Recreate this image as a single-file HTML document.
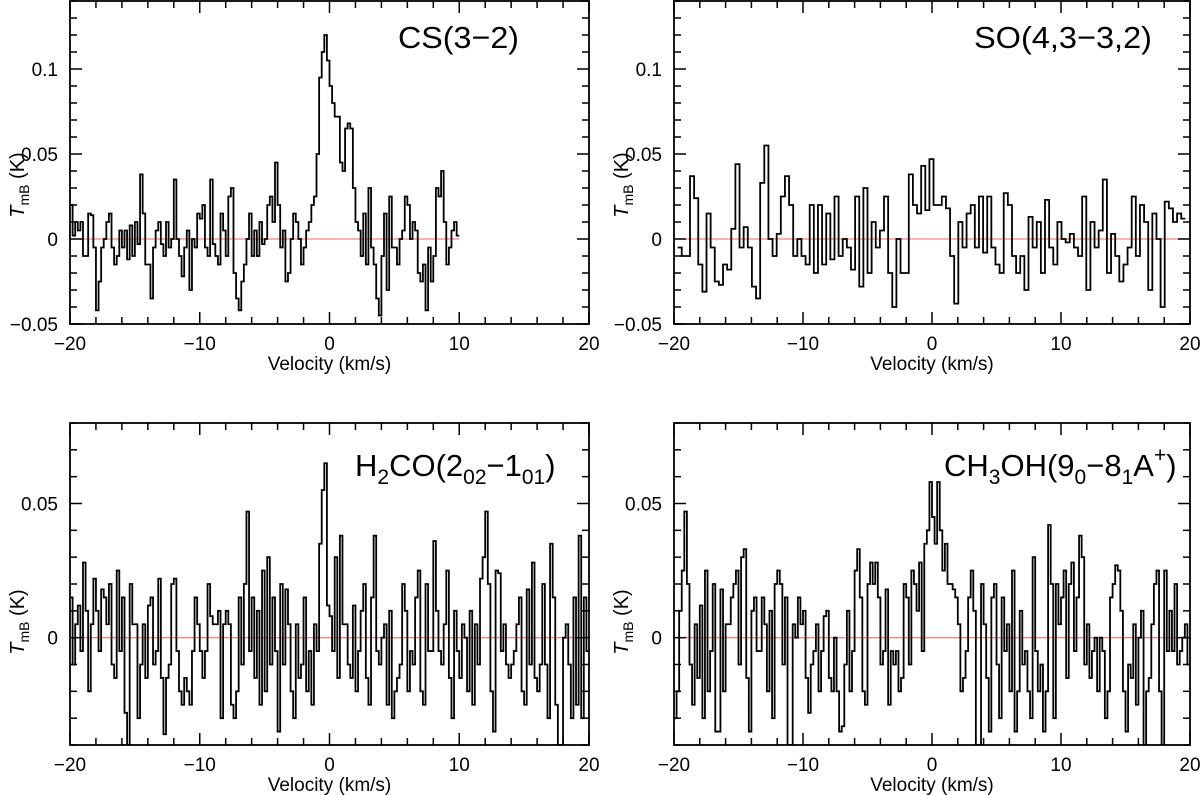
<!DOCTYPE html>
<html><head><meta charset="utf-8"><title>Molecular line spectra</title>
<style>
html,body{margin:0;padding:0;background:#fff;}
svg{display:block;font-family:"Liberation Sans",sans-serif;}
</style></head>
<body>
<svg id="fig" width="1200" height="795" viewBox="0 0 1200 795" xmlns="http://www.w3.org/2000/svg"></svg>
<script>
// ---- data (T_mB in mK) ----
const csValues = [20,2,10,5,10,-10,-10,15,14,-5,
-42,-25,-5,0,10,15,-5,-15,-10,5,
-5,5,-12,8,-10,10,-3,38,15,-15,
-15,-35,-5,5,10,-3,-10,10,-5,0,
35,0,-10,-22,-5,5,-30,0,-5,15,
12,20,-5,-10,35,-3,-10,-15,15,5,
-10,25,30,-20,-35,-42,-25,-15,0,15,
-10,5,-10,10,-3,0,20,25,10,45,
20,-5,5,-25,-20,0,15,10,0,-15,
-5,5,10,20,25,50,95,110,120,105,
90,80,72,72,45,40,65,68,65,30,
10,5,-10,15,-15,30,-5,-15,-35,-45,
-10,15,-30,25,-5,-5,-15,0,5,25,
20,0,10,5,-20,-25,-15,-42,-5,-25,
-10,30,25,40,10,-15,-5,5,10,2];
const soValues = [-5,-10,-10,37,24,-15,-31,15,-5,-25,-27,-15,-18,6,44,-5,7,-5,-28,-35,33,55,0,-10,3,25,37,20,-10,0,-10,-15,20,-20,20,-15,15,-12,25,-10,0,-5,-18,25,-28,30,-20,10,-5,5,25,-20,-40,0,-20,-20,38,20,15,43,17,47,20,20,25,18,-10,-38,10,-5,15,20,-5,25,-8,25,-5,-15,-20,27,20,-10,-20,-10,-30,13,-5,10,-20,23,-5,-15,10,0,-2,3,-5,-10,25,-30,10,-5,5,35,-20,3,-10,-25,-15,-5,25,-10,20,10,-30,15,0,-40,22,18,10,15,12];
const h2coValues = [15,-10,5,12,-5,28,10,-20,5,22,
10,-5,18,15,5,20,-10,-15,25,-5,
15,-28,-40,20,5,5,-30,-10,5,-15,
12,15,-10,-5,22,-15,-36,-15,-10,20,
22,-5,-20,-25,-15,-20,-25,-5,15,5,
-5,-15,-5,20,8,5,5,10,-30,5,
10,5,-25,-30,-20,15,-10,20,47,-5,
15,-15,10,-25,25,-20,30,-10,15,-5,
-35,20,-10,18,5,-20,-30,5,-15,-10,
15,-20,-5,-25,5,-5,35,55,65,12,
8,-5,30,-15,38,5,5,-10,-15,12,
-20,-5,10,20,-15,-25,15,38,-5,-10,
0,5,-25,10,-30,-20,-15,-10,20,10,
-20,-5,-10,15,25,-20,-25,20,-5,-5,
36,10,-5,-10,5,25,-15,-30,10,-5,
-15,5,0,-20,10,-25,5,-10,22,30,
47,20,-20,-35,25,24,-5,5,-10,-15,
-10,-5,5,15,-20,-25,18,-10,28,-15,
-20,-10,20,-10,-30,35,15,-25,-40,-45,
0,5,-10,-30,15,-25,38,-30,15,-5];
const ch3ohValues = [-30,-20,10,25,47,20,-10,-25,5,-15,
12,-30,25,-20,-5,20,-35,-35,18,-20,
5,5,15,20,25,-10,30,33,-15,-35,
10,15,-5,-5,15,5,-20,10,-30,20,
25,20,-10,15,-40,-40,5,0,15,5,
10,-15,-28,-10,-5,5,-20,-5,8,10,
-15,-20,0,-20,-35,-33,-10,10,-20,-5,
25,33,15,-20,-25,20,28,20,28,15,
-10,-5,18,-25,-5,-10,-5,-20,-15,20,
15,-10,25,20,10,28,-5,35,40,58,
45,35,58,40,25,35,20,20,18,15,
5,-20,-15,-5,15,25,10,-40,-40,20,
5,-15,-35,15,20,-10,-30,15,-5,5,
-20,25,-35,-20,10,-10,-5,-20,-30,30,
-5,-20,-10,-35,-20,42,20,-30,20,5,
15,25,-15,20,28,-5,15,38,30,-10,
5,-15,-5,0,-20,0,-5,-30,-20,15,
20,27,25,10,-20,-35,-10,-15,5,-25,
0,10,-40,-20,-15,5,20,25,-20,-45,
25,-5,10,-5,20,-10,-5,0,5,-10];
const xTickLabels = ["−20","−10","0","10","20"];
const xTickValues = [-20,-10,0,10,20];
const topYTicks = [-0.05,0,0.05,0.1];
const topYLabels = ["−0.05","0","0.05","0.1"];
const botYTicks = [0,0.05];
const botYLabels = ["0","0.05"];

const NS="http://www.w3.org/2000/svg";
const svg=document.getElementById('fig');
function mk(tag,attrs,parent){const e=document.createElementNS(NS,tag);for(const k in attrs)e.setAttribute(k,attrs[k]);(parent||svg).appendChild(e);return e;}

const panels=[
 {name:'cs-3-2',vals:csValues,v0:-20,dv:0.2,x0:70,x1:589,y0:1,y1:324,ymin:-0.05,ymax:0.14,yt:topYTicks,yl:topYLabels,zeroEnd:10,
  title:[['CS(3−2)',0]],tx:398,ty:48,tw:121,ylc:185},
 {name:'so-4-3-3-2',vals:soValues,v0:-19.72,dv:0.32,x0:674,x1:1190,y0:1,y1:324,ymin:-0.05,ymax:0.14,yt:topYTicks,yl:topYLabels,zeroEnd:20,
  title:[['SO(4,3−3,2)',0]],tx:974,ty:48,tw:178,ylc:185},
 {name:'h2co-202-101',vals:h2coValues,v0:-20,dv:0.2,x0:70,x1:589,y0:423,y1:745,ymin:-0.04,ymax:0.08,yt:botYTicks,yl:botYLabels,zeroEnd:20,
  title:'h2co',tx:355,ty:476,ylc:622},
 {name:'ch3oh-90-81',vals:ch3ohValues,v0:-20,dv:0.2,x0:674,x1:1190,y0:423,y1:745,ymin:-0.04,ymax:0.08,yt:botYTicks,yl:botYLabels,zeroEnd:20,
  title:'ch3oh',tx:944,ty:476,ylc:622}
];

panels.forEach(p=>{
 const g=mk('g',{});
 
 
 const X=v=>p.x0+(v+20)/40*(p.x1-p.x0);
 const Y=t=>p.y1-(t-p.ymin)/(p.ymax-p.ymin)*(p.y1-p.y0);
 const cid='clip-'+p.name;
 const cp=mk('clipPath',{id:cid},g);
 mk('rect',{x:p.x0,y:p.y0,width:p.x1-p.x0,height:p.y1-p.y0},cp);
 const zl=mk('line',{x1:p.x0,x2:X(p.zeroEnd),y1:Y(0),y2:Y(0),stroke:'#ff8080','stroke-width':1.3},g);
 
 
 let d='';
 p.vals.forEach((val,i)=>{
   const t=val/1000, xa=X(p.v0+i*p.dv), xb=X(p.v0+(i+1)*p.dv), y=Y(t);
   d+=(i===0?'M'+xa+','+y:'V'+y)+'H'+xb;
 });
 const sp=mk('path',{d:d,fill:'none',stroke:'#000','stroke-width':1.8,'clip-path':'url(#'+cid+')'},g);
 
 
 const fr=mk('rect',{x:p.x0,y:p.y0,width:p.x1-p.x0,height:p.y1-p.y0,fill:'none',stroke:'#000','stroke-width':1.8},g);
 
 
 for(let v=-20;v<=20;v+=2){
   const len=(v%10===0)?12:7, x=X(v);
   mk('line',{x1:x,x2:x,y1:p.y1,y2:p.y1-len,stroke:'#000','stroke-width':1.5},g);
   mk('line',{x1:x,x2:x,y1:p.y0,y2:p.y0+len,stroke:'#000','stroke-width':1.5},g);
 }
 xTickValues.forEach((v,i)=>{
   const t=mk('text',{x:X(v),y:p.y1+26,'font-size':19,'text-anchor':'middle'},g);
   t.textContent=xTickLabels[i];
   
   
 });
 for(let k=Math.ceil(p.ymin*100-1e-6);k<=Math.floor(p.ymax*100+1e-6);k++){
   const len=(k%5===0)?12:7, y=Y(k/100);
   mk('line',{x1:p.x0,x2:p.x0+len,y1:y,y2:y,stroke:'#000','stroke-width':1.5},g);
   mk('line',{x1:p.x1,x2:p.x1-len,y1:y,y2:y,stroke:'#000','stroke-width':1.5},g);
 }
 p.yt.forEach((v,i)=>{
   const t=mk('text',{x:p.x0-12,y:Y(v)+7,'font-size':19,'text-anchor':'end'},g);
   t.textContent=p.yl[i];
   
   
 });
 const xt=mk('text',{x:(p.x0+p.x1)/2,y:p.y1+46,'font-size':19,'text-anchor':'middle'},g);
 xt.textContent='Velocity (km/s)';
 
 
 const yc=p.ylc, yx=p.x0-46;
 const yt=mk('text',{x:yx,y:yc,'font-size':20,'text-anchor':'middle',transform:'rotate(-90 '+yx+' '+yc+')'},g);
 yt.innerHTML='<tspan font-style="italic">T</tspan><tspan font-size="14" dy="5">mB</tspan><tspan dy="-5">  (K)</tspan>';
 
 
 let tt;
 if(p.title==='h2co'){
   tt=mk('text',{x:p.tx,y:p.ty,'font-size':31},g);
   tt.innerHTML='H<tspan font-size="21" dy="8">2</tspan><tspan dy="-8">CO(2</tspan><tspan font-size="21" dy="8">02</tspan><tspan dy="-8">−1</tspan><tspan font-size="21" dy="8">01</tspan><tspan dy="-8">)</tspan>';
 } else if(p.title==='ch3oh'){
   tt=mk('text',{x:p.tx,y:p.ty,'font-size':31},g);
   tt.innerHTML='CH<tspan font-size="21" dy="8">3</tspan><tspan dy="-8">OH(9</tspan><tspan font-size="21" dy="8">0</tspan><tspan dy="-8">−8</tspan><tspan font-size="21" dy="8">1</tspan><tspan dy="-8">A</tspan><tspan font-size="21" dy="-14">+</tspan><tspan dy="14">)</tspan>';
 } else {
   tt=mk('text',{x:p.tx,y:p.ty,'font-size':31,textLength:p.tw,lengthAdjust:'spacingAndGlyphs'},g);
   tt.textContent=p.title[0][0];
 }
 
 
});
</script>
</body></html>
